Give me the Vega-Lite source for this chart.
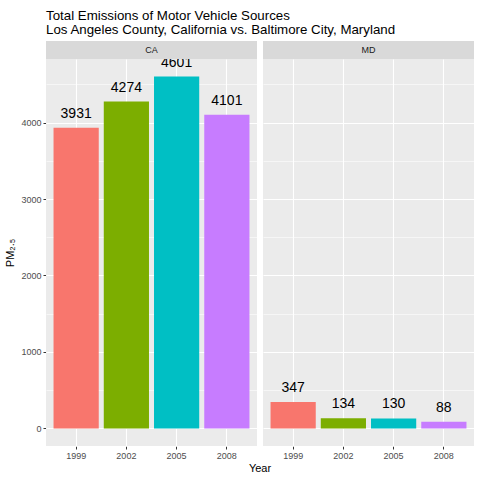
{
  "$schema": "https://vega.github.io/schema/vega-lite/v6.json",
  "autosize": {"type": "pad"},
  "padding": {"left": 4, "top": 8, "right": 0, "bottom": 0},
  "title": {
    "text": ["Total Emissions of Motor Vehicle Sources", "Los Angeles County, California vs. Baltimore City, Maryland"],
    "anchor": "start",
    "frame": "group",
    "font": "Liberation Sans",
    "fontSize": 13.3,
    "fontWeight": "normal",
    "color": "black",
    "lineHeight": 14,
    "offset": 5
  },
  "data": {
    "values": [
      {"state": "CA", "year": "1999", "emissions": 3931.12},
      {"state": "CA", "year": "2002", "emissions": 4273.71},
      {"state": "CA", "year": "2005", "emissions": 4601.41},
      {"state": "CA", "year": "2008", "emissions": 4101.32},
      {"state": "MD", "year": "1999", "emissions": 346.82},
      {"state": "MD", "year": "2002", "emissions": 134.31},
      {"state": "MD", "year": "2005", "emissions": 130.43},
      {"state": "MD", "year": "2008", "emissions": 88.28}
    ]
  },
  "facet": {
    "column": {
      "field": "state",
      "type": "nominal",
      "header": {
        "title": "Year",
        "titleOrient": "bottom",
        "labels": false,
        "titleFont": "Liberation Sans",
        "titleFontSize": 11,
        "titleFontWeight": "normal",
        "titleColor": "black",
        "titlePadding": -7
      }
    }
  },
  "spacing": 6,
  "spec": {
    "width": 211,
    "height": 387,
    "layer": [
      {
        "mark": {"type": "bar"},
        "encoding": {
          "x": {
            "field": "year",
            "type": "nominal",
            "sort": ["1999", "2002", "2005", "2008"],
            "scale": {"type": "band", "paddingInner": 0.1, "paddingOuter": 0.15},
            "axis": {
              "title": null,
              "grid": true,
              "bandPosition": 0.5,
              "gridColor": "white",
              "gridWidth": 1.1,
              "domain": false,
              "tickColor": "#333333",
              "tickSize": 3,
              "labelColor": "#4D4D4D",
              "labelFont": "Liberation Sans",
              "labelFontSize": 9,
              "labelAngle": 0,
              "labelPadding": 2
            }
          },
          "y": {
            "field": "emissions",
            "type": "quantitative",
            "scale": {"domain": [-230, 4831], "nice": false, "zero": false},
            "axis": {
              "title": "PM₂.₅",
              "titleFont": "Liberation Sans",
              "titleFontSize": 11,
              "titleFontWeight": "normal",
              "titleColor": "black",
              "titlePadding": 5,
              "values": [0, 500, 1000, 1500, 2000, 2500, 3000, 3500, 4000, 4500],
              "format": "d",
              "labelExpr": "datum.value % 1000 === 0 ? datum.label : ''",
              "grid": true,
              "gridColor": "white",
              "gridWidth": {"condition": {"test": "datum.value % 1000 !== 0", "value": 0.55}, "value": 1.1},
              "tickOpacity": {"condition": {"test": "datum.value % 1000 !== 0", "value": 0}, "value": 1},
              "domain": false,
              "tickColor": "#333333",
              "tickSize": 3,
              "labelColor": "#4D4D4D",
              "labelFont": "Liberation Sans",
              "labelFontSize": 9,
              "labelPadding": 2
            }
          },
          "color": {
            "field": "year",
            "type": "nominal",
            "scale": {"domain": ["1999", "2002", "2005", "2008"], "range": ["#F8766D", "#7CAE00", "#00BFC4", "#C77CFF"]},
            "legend": null
          }
        }
      },
      {
        "mark": {"type": "text", "baseline": "alphabetic", "dy": -10, "clip": true, "font": "Liberation Sans", "fontSize": 14, "color": "black"},
        "encoding": {
          "x": {"field": "year", "type": "nominal", "sort": ["1999", "2002", "2005", "2008"]},
          "y": {"field": "emissions", "type": "quantitative"},
          "text": {"field": "emissions", "type": "quantitative", "format": ".0f"}
        }
      },
      {
        "transform": [{"filter": "datum.year === '1999'"}],
        "mark": {"type": "rect", "fill": "#D9D9D9", "clip": false},
        "encoding": {
          "y": {"datum": 4831, "type": "quantitative"},
          "y2": {"datum": 5066}
        }
      },
      {
        "transform": [{"filter": "datum.year === '1999'"}],
        "mark": {"type": "text", "baseline": "middle", "align": "center", "clip": false, "font": "Liberation Sans", "fontSize": 9, "color": "#1A1A1A"},
        "encoding": {
          "y": {"datum": 4948, "type": "quantitative"},
          "text": {"field": "state", "type": "nominal"}
        }
      }
    ]
  },
  "config": {
    "view": {"fill": "#EBEBEB", "stroke": null},
    "background": "white"
  }
}
